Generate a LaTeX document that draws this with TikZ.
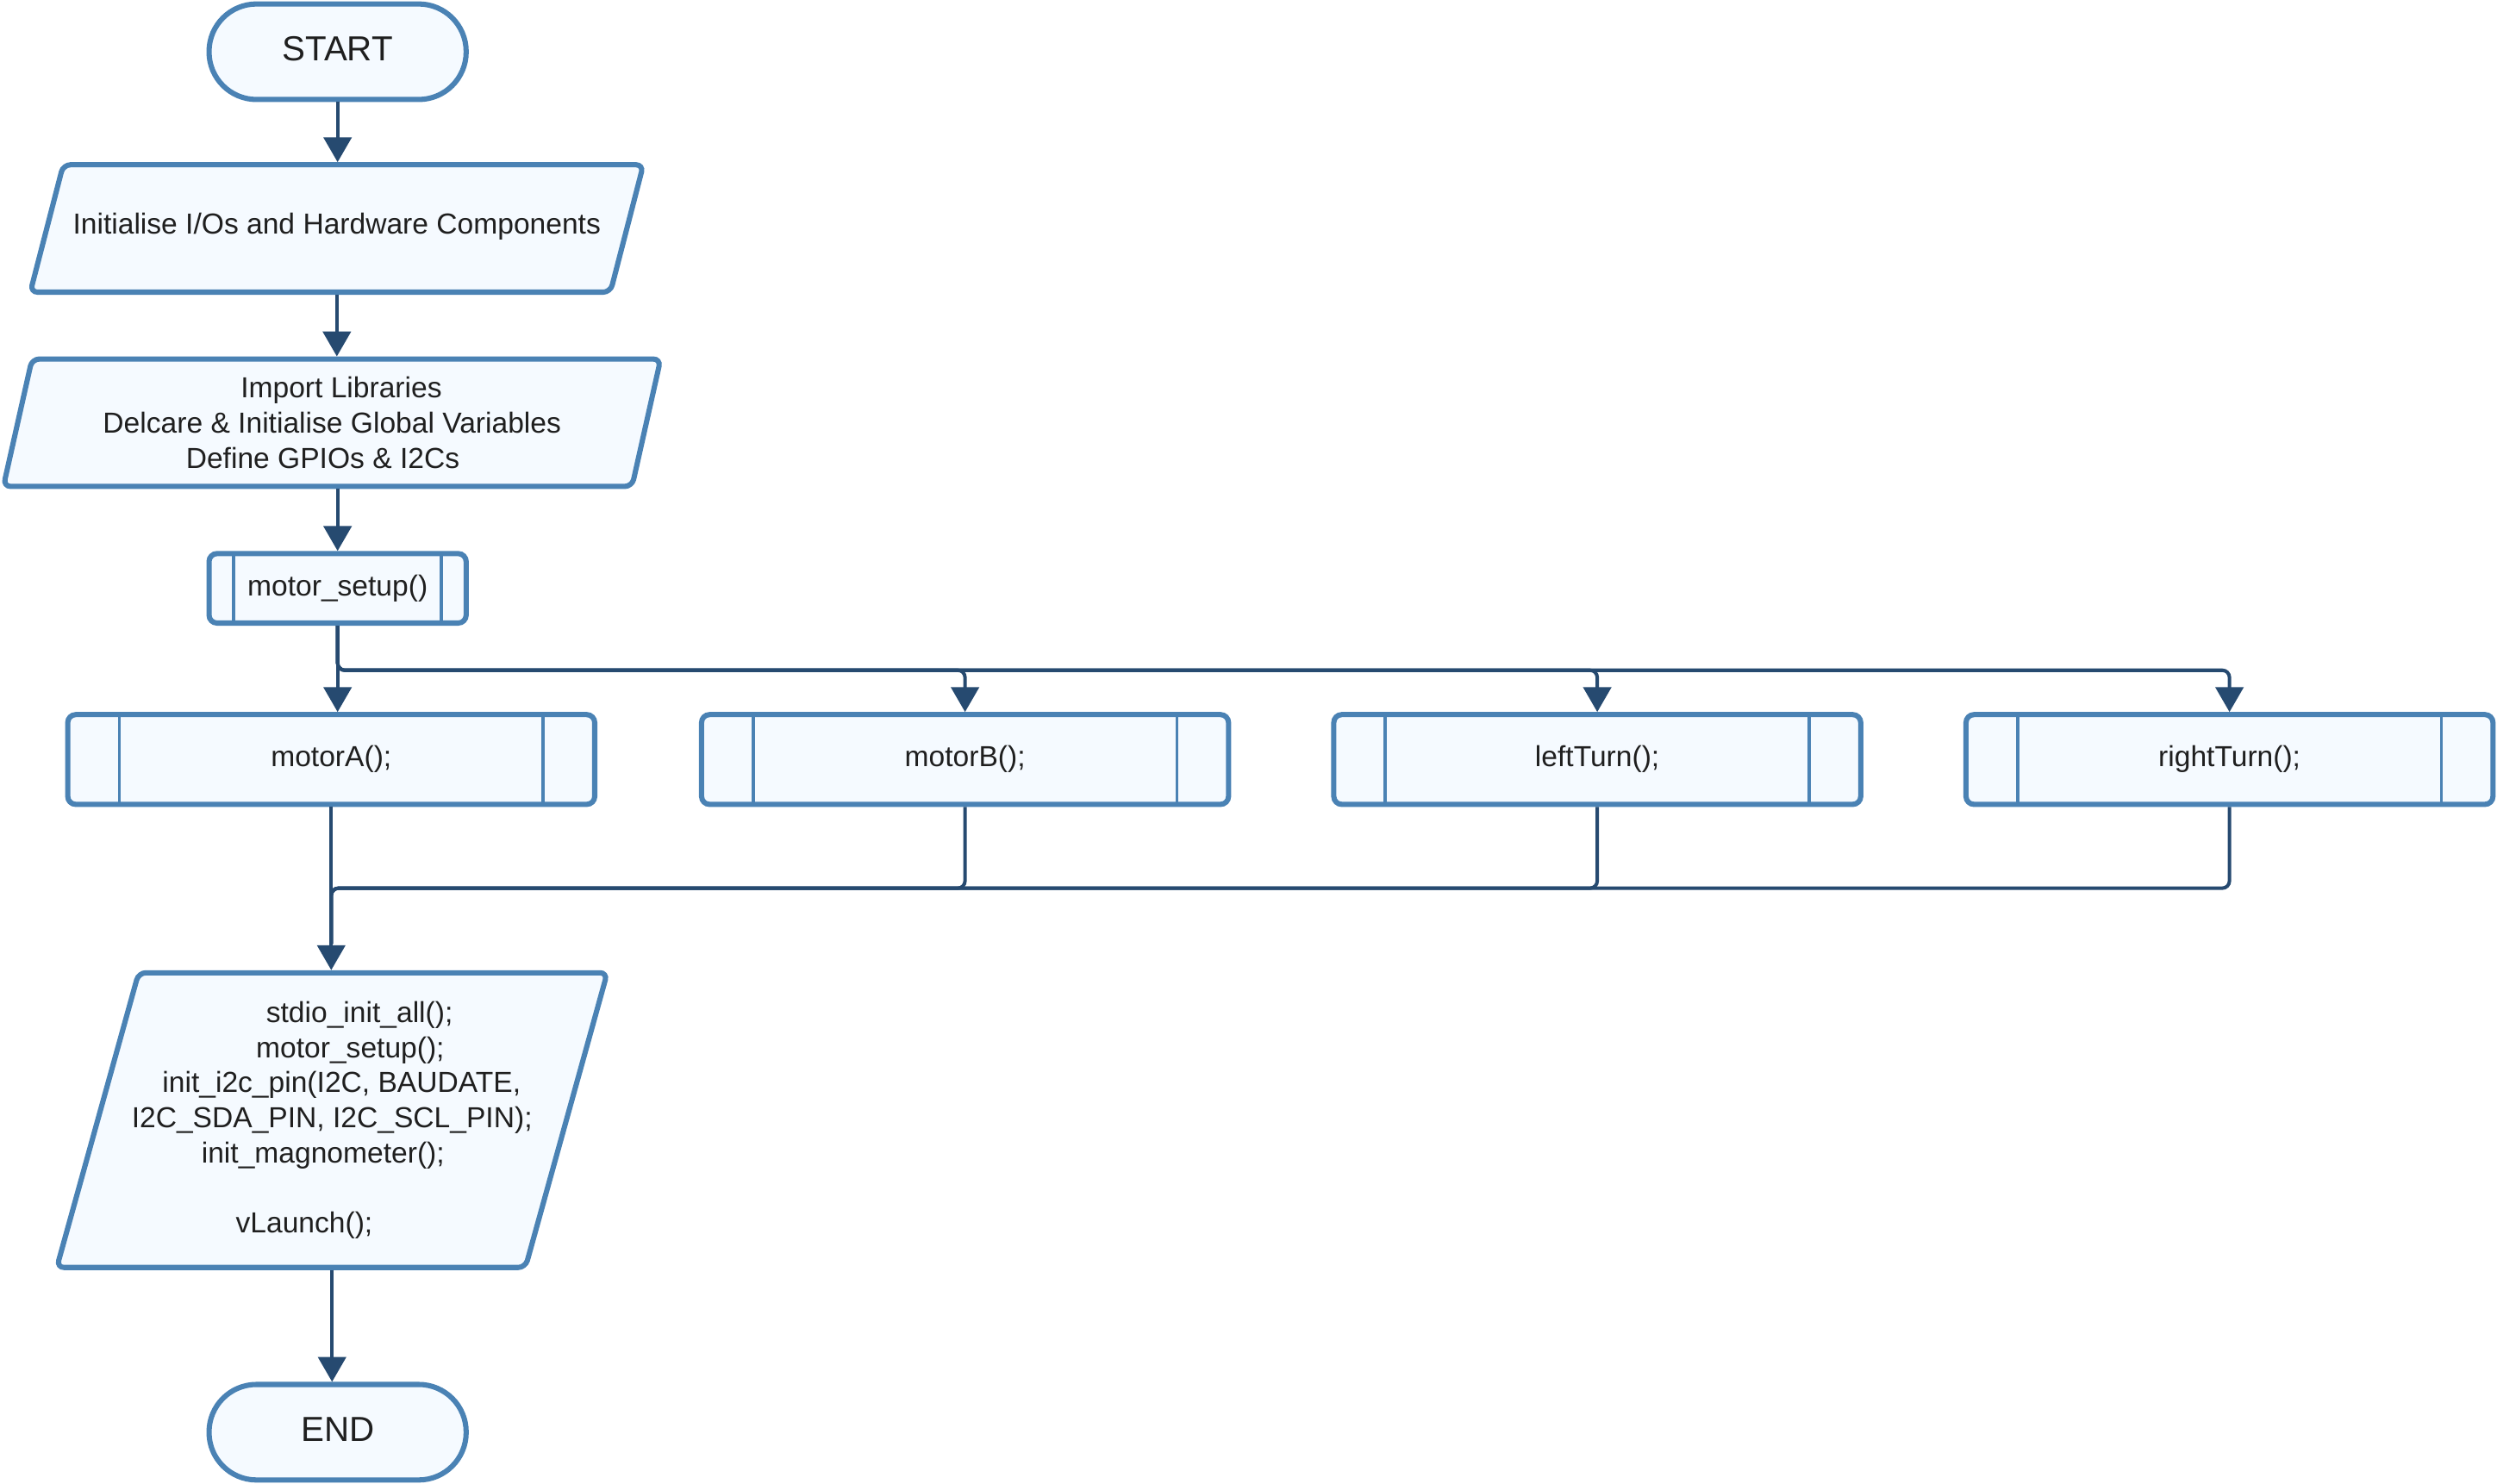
\documentclass[tikz,border=0pt]{standalone}
\usepackage{fontspec}
\setmainfont{Liberation Sans}
\usetikzlibrary{shapes.geometric,arrows.meta}

\definecolor{boxline}{HTML}{4A82B4}
\definecolor{boxfill}{HTML}{F5FAFF}
\definecolor{flowline}{HTML}{264A70}
\definecolor{boxtext}{HTML}{1F1F1F}

% shift one line of a centred block sideways
\newcommand{\slantline}[2]{\hbox{\kern#1\relax#2\kern-#1\relax}}

\tikzset{
  terminal/.style={rectangle, draw=boxline, fill=boxfill, line width=1.8pt,
    rounded corners=16.4pt, minimum width=88.8pt, minimum height=33pt,
    text depth=2.2pt, font=\fontsize{12}{14}\selectfont},
  io/.style={trapezium, trapezium left angle=75.5, trapezium right angle=104.5,
    trapezium stretches body=true, draw=boxline, fill=boxfill, line width=1.8pt,
    rounded corners=2.5pt, align=center, font=\fontsize{10}{12.1}\selectfont},
  subproc/.style={rectangle, draw=boxline, fill=boxfill, line width=1.8pt,
    rounded corners=2.75pt, font=\fontsize{10}{12.1}\selectfont,
    path picture={\draw[boxline, line width=1.1pt]
      ([xshift=#1]path picture bounding box.north west) -- ([xshift=#1]path picture bounding box.south west)
      ([xshift=-#1]path picture bounding box.north east) -- ([xshift=-#1]path picture bounding box.south east);}},
  flow/.style={draw=flowline, line width=1.2pt, rounded corners=2.5pt},
  arrow/.style={flow, -{Triangle[width=9.6pt,length=8.6pt]}},
}

\begin{document}
\begin{tikzpicture}[x=0.55pt, y=0.55pt]
  \useasboundingbox (0,0) rectangle (1568,-931.5);

  \begin{scope}[every node/.style={text=boxtext}]
    \node[terminal] (start) at (212,-32.5) {START};
    \node[io, minimum width=210pt, text height=24pt, text depth=20pt, inner ysep=0pt] (init) at (211.5,-143.5)
      {Initialise I/Os and Hardware Components};
    \node[io, minimum width=227pt, minimum height=44pt] (libs) at (208.5,-265.5)
      {\slantline{3.2pt}{Import Libraries}\\
       Delcare \& Initialise Global Variables\\
       \slantline{-3.2pt}{Define GPIOs \& I2Cs}};
    \node[subproc=8.5pt, minimum width=88.8pt, minimum height=24pt] (ms) at (212,-369.5)
      {motor\_setup()};

    \node[subproc=17.8pt, minimum width=182pt, minimum height=31pt] (mA) at (208,-477)  {motorA();};
    \node[subproc=17.8pt, minimum width=182pt, minimum height=31pt] (mB) at (606,-477)  {motorB();};
    \node[subproc=17.8pt, minimum width=182pt, minimum height=31pt] (lT) at (1003,-477) {leftTurn();};
    \node[subproc=17.8pt, minimum width=182pt, minimum height=31pt] (rT) at (1400,-477) {rightTurn();};

    \node[io, trapezium left angle=72.3, trapezium right angle=107.7, inner xsep=-2.4pt,
      minimum width=187pt, minimum height=101.8pt] (st) at (208.5,-703.5)
      {\slantline{9.5pt}{stdio\_init\_all();}\\
       \slantline{6.3pt}{motor\_setup();}\\
       \slantline{3.3pt}{init\_i2c\_pin(I2C, BAUDATE,}\\
       I2C\_SDA\_PIN, I2C\_SCL\_PIN);\\
       \slantline{-3.1pt}{init\_magnometer();}\\[12.1pt]
       \slantline{-9.6pt}{vLaunch();}};
    \node[terminal] (end) at (212,-899.5) {END};
  \end{scope}

  % main line
  \draw[arrow] (start.south) -- (start.south |- init.north);
  \draw[arrow] (init.south) -- (init.south |- libs.north);
  \draw[arrow] (libs.south -| ms.north) -- (ms.north);
  \draw[arrow] (ms.south) -- (ms.south |- mA.north);

  % fork to the motor routines
  \foreach \target in {mB,lT,rT}
    \draw[arrow] (ms.south) -- ++(0,-28) -| (\target.north);

  % join back
  \draw[arrow] (mA.south) -- (mA.south |- st.north);
  \foreach \target in {mB,lT,rT}
    \draw[flow, shorten >=9pt] (\target.south) -- ++(0,-51) -| (mA.south |- st.north);

  \draw[arrow] (st.south) -- (st.south |- end.north);
\end{tikzpicture}
\end{document}
